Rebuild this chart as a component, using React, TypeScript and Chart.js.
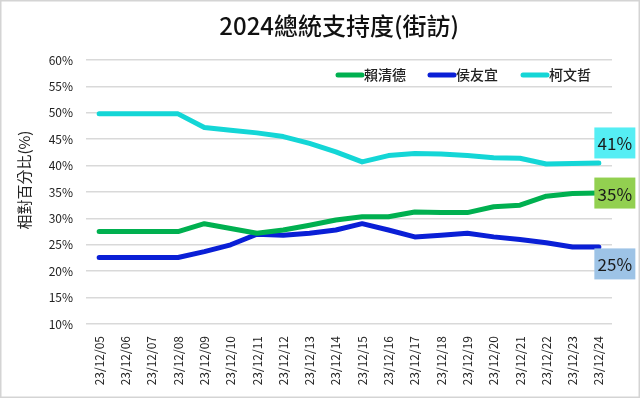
import React, { useEffect, useRef } from "react";
import { Chart, registerables } from "chart.js";

Chart.register(...registerables);

const categories = [
  "23/12/05", "23/12/06", "23/12/07", "23/12/08", "23/12/09", "23/12/10", "23/12/11",
  "23/12/12", "23/12/13", "23/12/14", "23/12/15", "23/12/16", "23/12/17", "23/12/18",
  "23/12/19", "23/12/20", "23/12/21", "23/12/22", "23/12/23", "23/12/24",
];

const laiValues = [27.5, 27.5, 27.5, 27.5, 29.0, 28.1, 27.2, 27.8, 28.7, 29.7, 30.3, 30.3, 31.2, 31.1, 31.1, 32.2, 32.5, 34.2, 34.7, 34.8];
const houValues = [22.6, 22.6, 22.6, 22.6, 23.7, 25.0, 27.0, 26.8, 27.2, 27.8, 29.0, 27.8, 26.5, 26.8, 27.2, 26.5, 26.0, 25.4, 24.6, 24.6];
const koValues = [49.8, 49.8, 49.8, 49.8, 47.2, 46.7, 46.2, 45.5, 44.2, 42.6, 40.7, 41.9, 42.3, 42.2, 41.9, 41.5, 41.4, 40.3, 40.4, 40.5];

const seriesNames = ["賴清德", "侯友宜", "柯文哲"];
const seriesColors = ["#00b050", "#0a1fd6", "#14d6d6"];
const endLabels = ["35%", "25%", "41%"];
const endLabelColors = ["#92d050", "#9dc3e6", "#55eef4"];
const endLabelOffsets = [0, 17, -20];

const yTicks = [10, 15, 20, 25, 30, 35, 40, 45, 50, 55, 60];

const titleText = "2024總統支持度(街訪)";
const yAxisTitle = "相對百分比(%)";

const FONT = "'Noto Sans CJK TC', 'Noto Sans', sans-serif";

export default function App() {
  const ref = useRef<HTMLCanvasElement | null>(null);

  useEffect(() => {
    document.body.style.margin = "0";
    const canvas = ref.current;
    if (!canvas) return;

    const bgPlugin = {
      id: "bgBorder",
      beforeDraw(chart: any) {
        const ctx = chart.ctx;
        ctx.save();
        ctx.fillStyle = "#ffffff";
        ctx.fillRect(0, 0, chart.width, chart.height);
        ctx.restore();
      },
      afterDraw(chart: any) {
        const ctx = chart.ctx;
        ctx.save();
        ctx.strokeStyle = "#d4d4d4";
        ctx.lineWidth = 1.5;
        ctx.strokeRect(0.75, 0.75, chart.width - 1.5, chart.height - 1.5);
        ctx.restore();
      },
    };

    const titlePlugin = {
      id: "customTitle",
      afterDraw(chart: any) {
        const ctx = chart.ctx;
        const area = chart.chartArea;
        ctx.save();
        ctx.fillStyle = "#111111";
        ctx.font = `500 24px ${FONT}`;
        ctx.textAlign = "center";
        ctx.textBaseline = "middle";
        ctx.fillText(titleText, chart.width * 0.53, 26);
        ctx.translate(24, area.top + (area.bottom - area.top) * 0.455);
        ctx.rotate(-Math.PI / 2);
        ctx.fillStyle = "#222222";
        ctx.font = `15px ${FONT}`;
        ctx.fillText(yAxisTitle, 0, 0);
        ctx.restore();
      },
    };

    const legendPlugin = {
      id: "customLegend",
      afterDraw(chart: any) {
        const ctx = chart.ctx;
        const area = chart.chartArea;
        const y = area.top + 15;
        const starts = [area.right - 274, area.right - 182, area.right - 89];
        ctx.save();
        chart.data.datasets.forEach((ds: any, i: number) => {
          const x0 = starts[i];
          ctx.strokeStyle = ds.borderColor;
          ctx.lineWidth = 5;
          ctx.lineCap = "round";
          ctx.beginPath();
          ctx.moveTo(x0, y);
          ctx.lineTo(x0 + 24, y);
          ctx.stroke();
          ctx.fillStyle = "#222222";
          ctx.font = `500 14px ${FONT}`;
          ctx.textAlign = "left";
          ctx.textBaseline = "middle";
          ctx.fillText(ds.label, x0 + 26, y);
        });
        ctx.restore();
      },
    };

    const endLabelPlugin = {
      id: "endLabels",
      afterDatasetsDraw(chart: any) {
        const ctx = chart.ctx;
        ctx.save();
        chart.data.datasets.forEach((ds: any, i: number) => {
          const meta = chart.getDatasetMeta(i);
          const pt = meta.data[meta.data.length - 1];
          if (!pt) return;
          const cx = pt.x + 16;
          const cy = pt.y + endLabelOffsets[i];
          const w = 41;
          const h = 31;
          ctx.fillStyle = endLabelColors[i];
          ctx.fillRect(cx - w / 2, cy - h / 2, w, h);
          ctx.fillStyle = "#1a1a1a";
          ctx.font = `17px ${FONT}`;
          ctx.textAlign = "center";
          ctx.textBaseline = "middle";
          ctx.fillText(endLabels[i], cx, cy + 1);
        });
        ctx.restore();
      },
    };

    const datasets = [laiValues, houValues, koValues].map((vals, i) => ({
      label: seriesNames[i],
      data: vals,
      borderColor: seriesColors[i],
      backgroundColor: seriesColors[i],
      borderWidth: 5,
      pointRadius: 0,
      tension: 0,
      borderCapStyle: "round" as const,
      borderJoinStyle: "round" as const,
    }));

    const chart = new Chart(canvas, {
      type: "line",
      data: { labels: categories, datasets },
      options: {
        animation: false,
        responsive: true,
        maintainAspectRatio: false,
        layout: { padding: { top: 60, right: 28, left: 0, bottom: 0 } },
        plugins: {
          legend: { display: false },
          title: { display: false },
          tooltip: { enabled: false },
        },
        scales: {
          x: {
            offset: true,
            grid: { display: false },
            border: { display: false },
            ticks: {
              autoSkip: false,
              maxRotation: 90,
              minRotation: 90,
              color: "#222222",
              font: { family: FONT, size: 12 },
              padding: 4,
            },
            afterFit(scale: any) {
              scale.height = 74;
            },
          },
          y: {
            min: 10,
            max: 60,
            afterBuildTicks(scale: any) {
              scale.ticks = yTicks.map((v) => ({ value: v }));
            },
            grid: { color: "#d9d9d9", lineWidth: 1.5, drawTicks: false },
            border: { display: false },
            ticks: {
              color: "#222222",
              font: { family: FONT, size: 12 },
              padding: 13,
              callback: (v: any) => `${v}%`,
            },
            afterFit(scale: any) {
              scale.width = 86;
            },
          },
        },
      },
      plugins: [bgPlugin, titlePlugin, legendPlugin, endLabelPlugin],
    });

    return () => chart.destroy();
  }, []);

  return (
    <div style={{ position: "relative", width: 640, height: 398 }}>
      <canvas ref={ref} />
    </div>
  );
}
